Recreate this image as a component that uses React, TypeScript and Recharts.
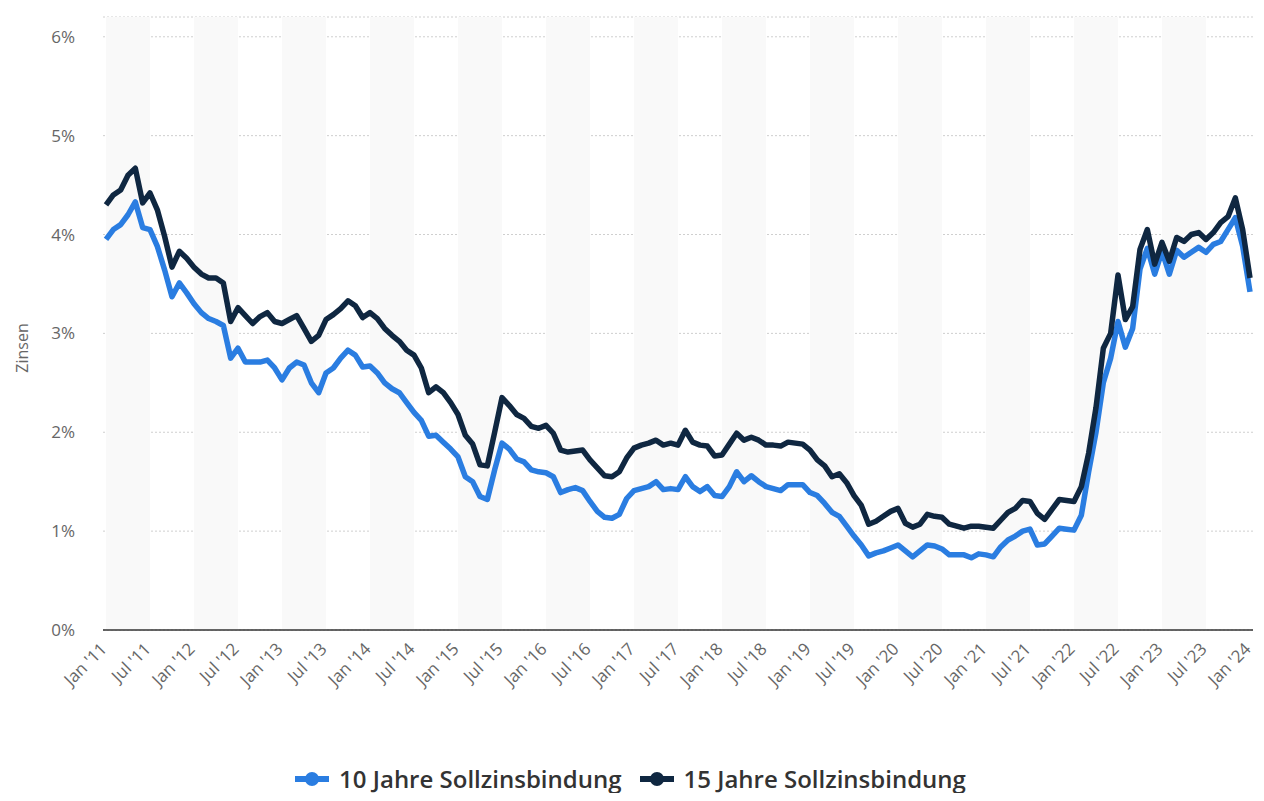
import { LineChart, Line, XAxis, YAxis, CartesianGrid, Legend, ReferenceArea } from 'recharts';

const monthNames = ['Jan', 'Feb', 'Mar', 'Apr', 'May', 'Jun', 'Jul', 'Aug', 'Sep', 'Oct', 'Nov', 'Dec'];
const years = ['11', '12', '13', '14', '15', '16', '17', '18', '19', '20', '21', '22', '23', '24'];

// Jan '11 .. Jan '24, monthly
const months: string[] = [];
years.forEach(y => monthNames.forEach(m => { if (months.length < 157) months.push(`${m} '${y}`); }));

const tickLabels = [
  "Jan '11", "Jul '11", "Jan '12", "Jul '12", "Jan '13", "Jul '13", "Jan '14", "Jul '14",
  "Jan '15", "Jul '15", "Jan '16", "Jul '16", "Jan '17", "Jul '17", "Jan '18", "Jul '18",
  "Jan '19", "Jul '19", "Jan '20", "Jul '20", "Jan '21", "Jul '21", "Jan '22", "Jul '22",
  "Jan '23", "Jul '23", "Jan '24",
];

const zehnJahre = [
  3.95, 4.05, 4.1, 4.2, 4.33, 4.07, 4.05, 3.88, 3.64, 3.37, 3.51, 3.41,
  3.3, 3.21, 3.15, 3.12, 3.08, 2.75, 2.85, 2.71, 2.71, 2.71, 2.73, 2.65,
  2.53, 2.65, 2.71, 2.68, 2.5, 2.4, 2.6, 2.65, 2.75, 2.83, 2.78, 2.66,
  2.67, 2.6, 2.5, 2.44, 2.4, 2.3, 2.2, 2.12, 1.96, 1.97, 1.9, 1.83,
  1.75, 1.55, 1.5, 1.35, 1.32, 1.62, 1.89, 1.83, 1.73, 1.7, 1.62, 1.6,
  1.59, 1.55, 1.39, 1.42, 1.44, 1.41, 1.3, 1.2, 1.14, 1.13, 1.17, 1.33,
  1.41, 1.43, 1.45, 1.5, 1.42, 1.43, 1.42, 1.55, 1.45, 1.4, 1.45, 1.36,
  1.35, 1.45, 1.6, 1.5, 1.56, 1.5, 1.45, 1.43, 1.41, 1.47, 1.47, 1.47,
  1.39, 1.36, 1.28, 1.19, 1.15, 1.05, 0.95, 0.86, 0.75, 0.78, 0.8, 0.83,
  0.86, 0.8, 0.74, 0.8, 0.86, 0.85, 0.82, 0.76, 0.76, 0.76, 0.73, 0.77,
  0.76, 0.74, 0.84, 0.91, 0.95, 1.0, 1.02, 0.86, 0.87, 0.95, 1.03, 1.02,
  1.01, 1.16, 1.6, 2.0, 2.5, 2.75, 3.12, 2.86, 3.05, 3.65, 3.86, 3.6,
  3.83, 3.6, 3.84, 3.77, 3.82, 3.87, 3.82, 3.9, 3.93, 4.05, 4.17, 3.88,
  3.42,
];

const fuenfzehnJahre = [
  4.3, 4.4, 4.45, 4.6, 4.67, 4.32, 4.42, 4.25, 3.98, 3.67, 3.83, 3.76,
  3.67, 3.6, 3.56, 3.56, 3.51, 3.12, 3.26, 3.18, 3.1, 3.17, 3.21, 3.12,
  3.1, 3.14, 3.18, 3.05, 2.92, 2.98, 3.14, 3.19, 3.25, 3.33, 3.28, 3.16,
  3.21, 3.15, 3.05, 2.98, 2.92, 2.83, 2.78, 2.65, 2.4, 2.46, 2.4, 2.3,
  2.18, 1.97, 1.88, 1.67, 1.66, 2.0, 2.35, 2.27, 2.18, 2.14, 2.06, 2.04,
  2.07, 1.99, 1.82, 1.8, 1.81, 1.82, 1.72, 1.64, 1.56, 1.55, 1.6, 1.74,
  1.84, 1.87, 1.89, 1.92, 1.87, 1.89, 1.87, 2.02, 1.9, 1.87, 1.86, 1.76,
  1.77, 1.88, 1.99, 1.92, 1.95, 1.92, 1.87, 1.87, 1.86, 1.9, 1.89, 1.88,
  1.82, 1.72, 1.66, 1.55, 1.58, 1.49, 1.36, 1.26, 1.07, 1.1, 1.15, 1.2,
  1.23, 1.08, 1.04, 1.07, 1.17, 1.15, 1.14, 1.07, 1.05, 1.03, 1.05, 1.05,
  1.04, 1.03, 1.11, 1.19, 1.23, 1.31, 1.3, 1.18, 1.12, 1.22, 1.32, 1.31,
  1.3, 1.45, 1.79, 2.25, 2.85, 3.0, 3.59, 3.14, 3.27, 3.85, 4.05, 3.7,
  3.92, 3.73, 3.97, 3.93, 4.0, 4.02, 3.95, 4.02, 4.12, 4.18, 4.37, 4.05,
  3.56,
];

const yTicks = [0, 1, 2, 3, 4, 5, 6];

const BLUE = '#2a7de1';
const NAVY = '#0f2741';
const FONT = "'Open Sans', sans-serif";

const data = months.map((m, i) => ({ month: m, zehn: zehnJahre[i], fuenfzehn: fuenfzehnJahre[i] }));

// shaded bands: Jan..Jul of each year
const bands = years.slice(0, 13).map(y => [`Jan '${y}`, `Jul '${y}`]);

const AngledTick = ({ x, y, payload }: any) => (
  <text x={x + 2} y={y + 12} transform={`rotate(-45, ${x + 2}, ${y + 12})`} textAnchor="end"
    fill="#666" fontSize={17} fontFamily={FONT}>
    {payload.value}
  </text>
);

const YLabel = () => (
  <text x={20} y={340} transform="rotate(-90, 20, 340)" textAnchor="middle" fill="#666" fontSize={16} fontFamily={FONT}>
    Zinsen
  </text>
);

const LegendContent = () => {
  const items = [
    { label: '10 Jahre Sollzinsbindung', color: BLUE },
    { label: '15 Jahre Sollzinsbindung', color: NAVY },
  ];
  return (
    <div style={{ display: 'flex', justifyContent: 'center', gap: 18, height: 28, alignItems: 'center' }}>
      {items.map(it => (
        <div key={it.label} style={{ display: 'flex', alignItems: 'center' }}>
          <svg width={34} height={14} style={{ marginRight: 10 }}>
            <line x1={0} y1={7} x2={34} y2={7} stroke={it.color} strokeWidth={6} />
            <circle cx={17} cy={7} r={7} fill={it.color} />
          </svg>
          <span style={{ fontFamily: FONT, fontWeight: 600, fontSize: 24, lineHeight: '28px', color: '#333' }}>
            {it.label}
          </span>
        </div>
      ))}
    </div>
  );
};

export default function App() {
  return (
    <LineChart width={1248} height={785} data={data} margin={{ top: 9, right: 3, bottom: 0, left: 0 }}
      style={{ fontFamily: FONT }}>
      {bands.map(([a, b]) => (
        <ReferenceArea key={a} x1={a} x2={b} fill="#f9f9f9" fillOpacity={1} stroke="none" />
      ))}
      <CartesianGrid vertical={false} stroke="#cfcfcf" strokeDasharray="2 2" />
      <XAxis dataKey="month" ticks={tickLabels} interval={0} tick={<AngledTick />} tickLine={false}
        axisLine={{ stroke: '#333', strokeWidth: 1.5 }} height={135} padding={{ left: 3, right: 3 }} />
      <YAxis domain={[0, 6.2]} ticks={yTicks} tickFormatter={v => `${v}%`} width={95}
        axisLine={false} tickLine={false} tickSize={0} tickMargin={28}
        tick={{ fill: '#666', fontSize: 17, fontFamily: FONT }}
        label={<YLabel />} />
      <Legend verticalAlign="bottom" content={<LegendContent />} />
      <Line type="linear" dataKey="zehn" name="10 Jahre Sollzinsbindung" stroke={BLUE} strokeWidth={5.5}
        dot={false} isAnimationActive={false} strokeLinejoin="round" />
      <Line type="linear" dataKey="fuenfzehn" name="15 Jahre Sollzinsbindung" stroke={NAVY} strokeWidth={5.5}
        dot={false} isAnimationActive={false} strokeLinejoin="round" />
    </LineChart>
  );
}
